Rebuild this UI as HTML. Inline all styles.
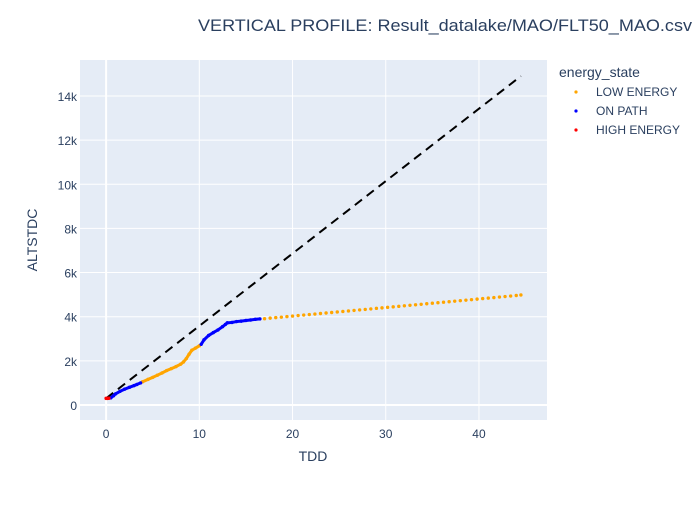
<!DOCTYPE html>
<html><head><meta charset="utf-8"><style>
body{margin:0;background:#fff;font-family:"Liberation Sans",Arial,sans-serif;}
svg text{font-family:"Liberation Sans",Arial,sans-serif;fill:#2a3f5f;}
</style></head><body>
<svg id="chart" width="700" height="500">
<text x="198" y="31" font-size="17" textLength="494" lengthAdjust="spacingAndGlyphs">VERTICAL PROFILE: Result_datalake/MAO/FLT50_MAO.csv</text>
<rect x="80" y="60" width="467" height="360" fill="#e5ecf6"/>
<g id="grid"></g><g id="ticks"></g><g id="marks"></g>
<text x="313" y="461" font-size="14" text-anchor="middle">TDD</text>
<text x="0" y="0" font-size="14" text-anchor="middle" transform="translate(37,240) rotate(-90)">ALTSTDC</text>
<g>
<text x="559" y="77" font-size="14">energy_state</text>
<g><circle cx="576" cy="92" r="1.6" fill="orange"/><text x="596" y="96" font-size="12">LOW ENERGY</text></g>
<g><circle cx="576" cy="111" r="1.6" fill="blue"/><text x="596" y="115" font-size="12">ON PATH</text></g>
<g><circle cx="576" cy="130" r="1.6" fill="red"/><text x="596" y="134" font-size="12">HIGH ENERGY</text></g>
</g>
</svg>
<script>
const xTicks=[0,10,20,30,40];
const yTicks=[0,2000,4000,6000,8000,10000,12000,14000];
const yTickLabels=["0","2k","4k","6k","8k","10k","12k","14k"];
const highX=[0,0.15,0.3];
const highY=[300,300,305];
const onX=[0.5,0.8,1,1.5,2,2.5,3,3.3,3.7,10.2,10.5,11,11.5,12,12.5,12.8,13,13.5,14,14.5,15,15.5,16,16.5];
const onY=[320,420,500,620,720,800,880,930,1000,2750,2950,3150,3280,3400,3550,3650,3720,3740,3780,3800,3830,3850,3880,3900];
const lowX=[3.9,4.5,5,5.5,6,6.5,7,7.5,8,8.3,8.6,8.9,9.2,9.6,10];
const lowY=[1050,1160,1250,1350,1450,1560,1650,1740,1850,1950,2100,2300,2480,2580,2680];
const tailX=[17,17.6,18.2,18.8,19.4,20,20.6,21.2,21.8,22.4,23,23.6,24.2,24.8,25.4,26,26.6,27.2,27.8,28.4,29,29.6,30.2,30.8,31.4,32,32.6,33.2,33.8,34.4,35,35.6,36.2,36.8,37.4,38,38.6,39.2,39.8,40.4,41,41.6,42.2,42.8,43.4,44,44.5];
const tailY=[3910,3935,3958,3980,4005,4028,4052,4075,4098,4120,4145,4168,4190,4215,4238,4260,4285,4308,4330,4354,4378,4400,4424,4447,4470,4494,4517,4540,4563,4587,4610,4633,4656,4680,4703,4726,4750,4773,4796,4820,4843,4866,4890,4913,4936,4960,4985];
const refX=[0,44.5];
const refY=[300,14900];
const X0=80,X1=547,Y0=60,Y1=420,xmin=-2.8,xmax=47.3,ymin=-680,ymax=15630;
const sx=v=>X0+(v-xmin)/(xmax-xmin)*(X1-X0);
const sy=v=>Y1-(v-ymin)/(ymax-ymin)*(Y1-Y0);
const NS="http://www.w3.org/2000/svg";
const mk=(t,a,p)=>{const e=document.createElementNS(NS,t);for(const k in a)e.setAttribute(k,a[k]);p.appendChild(e);return e;};
const grid=document.getElementById('grid'),ticks=document.getElementById('ticks'),marks=document.getElementById('marks');
xTicks.forEach(t=>{const g=mk('line',{x1:sx(t),x2:sx(t),y1:Y0,y2:Y1,stroke:'#fff','stroke-width':t===0?2:1},grid);


const tx=mk('text',{x:sx(t),y:438,'font-size':12,'text-anchor':'middle'},ticks);tx.textContent=t;

});
yTicks.forEach((t,i)=>{const g=mk('line',{x1:X0,x2:X1,y1:sy(t),y2:sy(t),stroke:'#fff','stroke-width':t===0?2:1},grid);


const tx=mk('text',{x:77,y:sy(t)+5,'font-size':12,'text-anchor':'end'},ticks);tx.textContent=yTickLabels[i];

});
const ref=mk('line',{x1:sx(refX[0]),y1:sy(refY[0]),x2:sx(refX[1]),y2:sy(refY[1]),stroke:'#000','stroke-width':2,'stroke-dasharray':'9,6'},marks);


function series(xs,ys,col,name,connect){
 const g=mk('g',{},marks);
 
 
 for(let i=0;i<xs.length;i++){
  if(connect&&i>0&&xs[i]-xs[i-1]<1){const l=mk('line',{x1:sx(xs[i-1]),y1:sy(ys[i-1]),x2:sx(xs[i]),y2:sy(ys[i]),stroke:col,'stroke-width':3,'stroke-linecap':'round'},g);
   
   }
  const c=mk('circle',{cx:sx(xs[i]),cy:sy(ys[i]),r:1.7,fill:col},g);
  
  
 }
}
series(lowX,lowY,'orange','low-energy-series',true);
series(tailX,tailY,'orange','low-energy-tail-series',false);
series(onX,onY,'blue','on-path-series',true);
series(highX,highY,'red','high-energy-series',true);
</script>
</body></html>
